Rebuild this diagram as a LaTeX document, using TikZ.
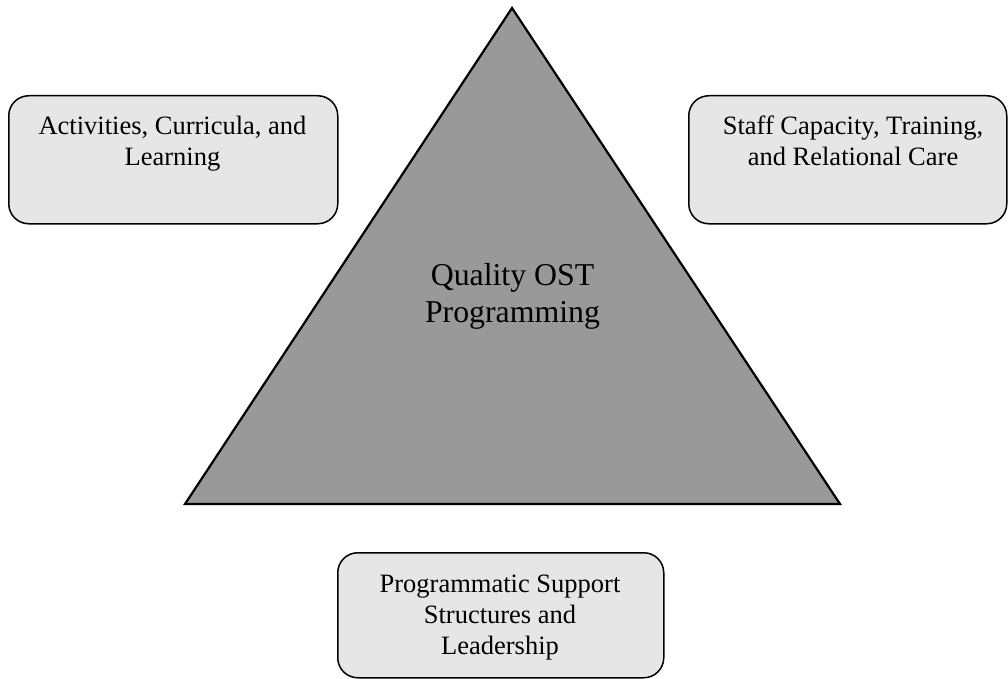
\documentclass[tikz,border=0pt]{standalone}
\usepackage{fontspec}
\setmainfont{Liberation Serif}
\definecolor{boxfill}{HTML}{E6E6E6}
\definecolor{trifill}{HTML}{999999}
\begin{document}
\begin{tikzpicture}[x=1pt,y=-1pt,
  box/.style={draw=black, line width=1.5pt, fill=boxfill, rounded corners=20pt, inner sep=0pt},
  boxtext/.style={align=center, anchor=base, inner sep=0pt, font=\fontsize{26.5}{31}\selectfont},
  bigtext/.style={align=center, anchor=base, inner sep=0pt, font=\fontsize{31.8}{37}\selectfont},
  tri/.style={draw=black, line width=2.2pt, fill=trifill, line join=miter}]
\useasboundingbox (0,0) rectangle (1008,679);
% triangle
\coordinate (apex) at (512,8);
\coordinate (bl) at (185,504);
\coordinate (br) at (840,504);
\draw[tri] (apex) -- (br) -- (bl) -- cycle;
\node[bigtext] (center) at (512.5,322) {Quality OST\\Programming};
% boxes
\node[box, anchor=north west, minimum width=329pt, minimum height=128pt] (b1) at (8,95) {};
\node[box, anchor=north west, minimum width=318pt, minimum height=128pt] (b2) at (688,95) {};
\node[box, anchor=north west, minimum width=326pt, minimum height=125pt] (b3) at (337,552) {};
\node[boxtext] (t1) at (172.5,166) {Activities, Curricula, and\\Learning};
\node[boxtext] (t2) at (853,166) {Staff Capacity, Training,\\and Relational Care};
\node[boxtext] (t3) at (500,654) {Programmatic Support\\Structures and\\Leadership};
\end{tikzpicture}
\end{document}
